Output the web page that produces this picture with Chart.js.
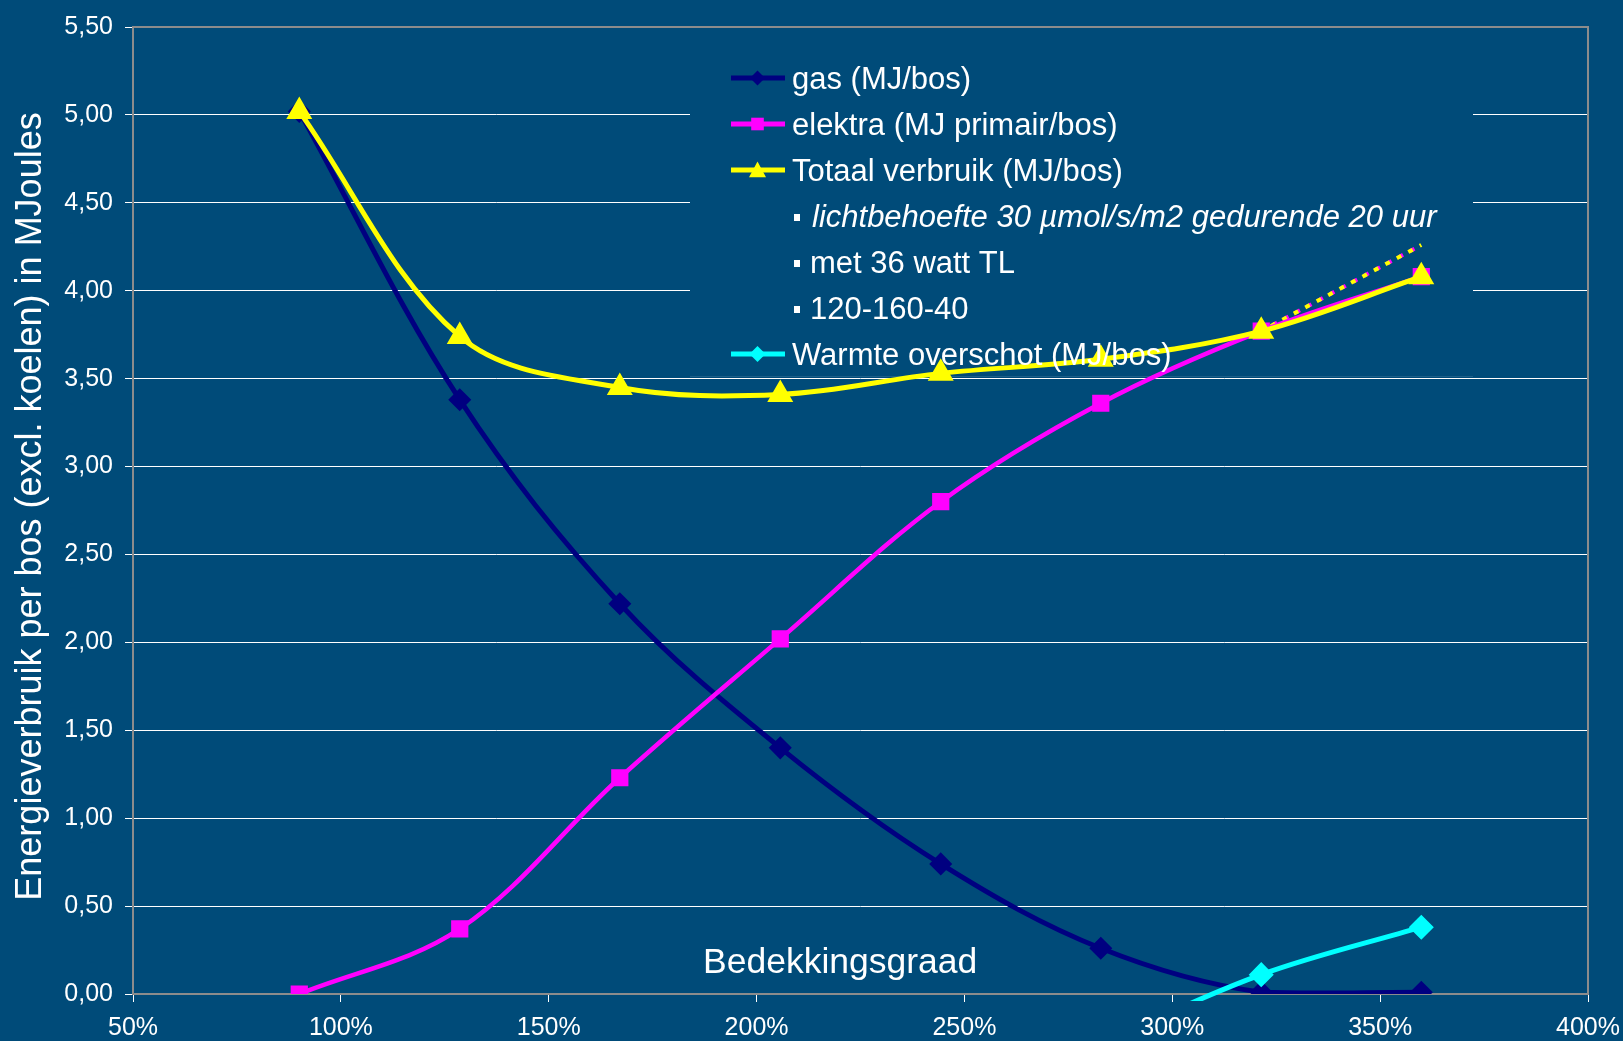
<!DOCTYPE html>
<html>
<head>
<meta charset="utf-8">
<script src="https://cdn.jsdelivr.net/npm/chart.js@4.4.0/dist/chart.umd.min.js"></script>
<style>
  html, body { margin: 0; padding: 0; background: #004b79; }
  canvas { display: block; }
</style>
</head>
<body>
<canvas id="chart" width="1623" height="1041"></canvas>
<script>
// Bedekkingsgraad (%) op de x-as
const bedekking = [90, 128.6, 167.1, 205.7, 244.3, 282.8, 321.4, 359.9];
const gas = [5.02, 3.38, 2.22, 1.40, 0.74, 0.26, 0.01, 0.01];
const elektra = [0.00, 0.37, 1.23, 2.02, 2.80, 3.36, 3.77, 4.08];
const totaal = [5.02, 3.74, 3.45, 3.41, 3.53, 3.61, 3.77, 4.08];
const warmteX = [282.8, 321.4, 359.9];
const warmte = [-0.28, 0.11, 0.38];
// gestippelde lijn aan het eind
const stippelX = [321.4, 359.9];
const stippel = [3.77, 4.26];

const legendLabels = [
  'gas (MJ/bos)',
  'elektra (MJ primair/bos)',
  'Totaal verbruik (MJ/bos)',
  'lichtbehoefte 30 \u00b5mol/s/m2 gedurende 20 uur',
  'met 36 watt TL',
  '120-160-40',
  'Warmte overschot (MJ/bos)'
];
const yTitle = 'Energieverbruik per bos (excl. koelen) in MJoules';
const xTitle = 'Bedekkingsgraad';

const BG = '#004b79';
const FONT = "'Liberation Sans', Arial, sans-serif";

const pts = (xs, ys) => xs.map((x, i) => ({ x: x, y: ys[i] }));

function marker(ctx, style, x, y, r, color) {
  ctx.save();
  ctx.fillStyle = color;
  ctx.beginPath();
  if (style === 'diamond') {
    ctx.moveTo(x, y - r); ctx.lineTo(x + r, y); ctx.lineTo(x, y + r); ctx.lineTo(x - r, y);
  } else if (style === 'square') {
    ctx.rect(x - r, y - r, 2 * r, 2 * r);
  } else if (style === 'triangle') {
    ctx.moveTo(x, y - r); ctx.lineTo(x + r, y + r * 0.85); ctx.lineTo(x - r, y + r * 0.85);
  }
  ctx.closePath();
  ctx.fill();
  ctx.restore();
}

const overlay = {
  id: 'overlay',
  beforeDatasetsDraw(chart) {
    const ctx = chart.ctx, a = chart.chartArea;
    ctx.save();
    // frame
    ctx.strokeStyle = '#8c8c8c';
    ctx.lineWidth = 2;
    ctx.strokeRect(a.left, a.top, a.right - a.left, a.bottom - a.top);
    // legend box hides gridlines
    ctx.fillStyle = BG;
    ctx.fillRect(690, 50, 783, 326);
    ctx.strokeStyle = 'rgba(255,255,255,0.12)';
    ctx.lineWidth = 1;
    ctx.beginPath(); ctx.moveTo(690, 376.5); ctx.lineTo(1473, 376.5); ctx.stroke();
    ctx.restore();
  },
  afterDatasetsDraw(chart) {
    const ctx = chart.ctx;
    ctx.save();
    ctx.fillStyle = '#ffffff';
    ctx.textBaseline = 'alphabetic';
    ctx.textAlign = 'left';
    const lines = [
      { color: '#000080', style: 'diamond', r: 7.5 },
      { color: '#ff00ff', style: 'square', r: 6.3 },
      { color: '#ffff00', style: 'triangle', r: 8.5 },
      null, null, null,
      { color: '#00ffff', style: 'diamond', r: 8 }
    ];
    legendLabels.forEach((txt, i) => {
      const base = 89 + i * 46;
      const item = lines[i];
      if (item) {
        ctx.strokeStyle = item.color;
        ctx.lineWidth = 5;
        ctx.beginPath(); ctx.moveTo(731, base - 11); ctx.lineTo(785, base - 11); ctx.stroke();
        marker(ctx, item.style, 757.5, base - 11, item.r, item.color);
        ctx.fillStyle = '#ffffff';
        ctx.font = '31px ' + FONT;
        ctx.fillText(txt, 792, base);
      } else {
        ctx.fillStyle = '#ffffff';
        ctx.fillRect(794, base - 13, 6, 7);
        ctx.font = (i === 3 ? 'italic ' : '') + '31px ' + FONT;
        ctx.fillText(txt, i === 3 ? 812 : 810, base);
      }
    });
    // x-as titel in de plot
    ctx.font = '35.5px ' + FONT;
    ctx.fillText(xTitle, 703, 973);
    ctx.restore();
  },
  afterDraw(chart) {
    const ctx = chart.ctx;
    ctx.save();
    ctx.fillStyle = '#ffffff';
    ctx.font = '36px ' + FONT;
    ctx.textAlign = 'center';
    ctx.textBaseline = 'alphabetic';
    ctx.translate(41, 506.5);
    ctx.rotate(-Math.PI / 2);
    ctx.fillText(yTitle, 0, 0);
    ctx.restore();
  }
};

new Chart(document.getElementById('chart'), {
  type: 'line',
  data: {
    datasets: [
      {
        label: 'Warmte overschot (MJ/bos)',
        data: pts(warmteX, warmte),
        borderColor: '#00ffff', backgroundColor: '#00ffff',
        borderWidth: 5, pointStyle: 'rectRot', pointRadius: 9,
        tension: 0.35, order: 0,
        clip: { left: 0, top: 0, right: 0, bottom: 7 }
      },
      {
        label: 'Totaal verbruik (MJ/bos)',
        data: pts(bedekking, totaal),
        borderColor: '#ffff00', backgroundColor: '#ffff00',
        borderWidth: 5, pointStyle: 'triangle', pointRadius: 10,
        tension: 0.35, order: 1
      },
      {
        label: 'elektra (MJ primair/bos)',
        data: pts(bedekking, elektra),
        borderColor: '#ff00ff', backgroundColor: '#ff00ff',
        borderWidth: 4.5, pointStyle: 'rect', pointRadius: 9,
        tension: 0.35, order: 2
      },
      {
        label: 'gas (MJ/bos)',
        data: pts(bedekking, gas),
        borderColor: '#000080', backgroundColor: '#000080',
        borderWidth: 5, pointStyle: 'rectRot', pointRadius: 8,
        tension: 0.35, order: 3
      },
      {
        label: 'stippel geel',
        data: pts(stippelX, stippel),
        borderColor: '#ffff00', borderWidth: 4, borderDash: [5, 8], borderDashOffset: 2,
        pointRadius: 0, order: 4
      },
      {
        label: 'stippel magenta',
        data: pts(stippelX, stippel),
        borderColor: '#ff00ff', borderWidth: 4, borderDash: [5, 8],
        pointRadius: 0, order: 5
      }
    ]
  },
  options: {
    responsive: false,
    animation: false,
    layout: { padding: { top: 24, right: 35, left: 0, bottom: 0 } },
    plugins: {
      legend: { display: false },
      tooltip: { enabled: false }
    },
    scales: {
      x: {
        type: 'linear',
        min: 50, max: 400,
        afterFit: (s) => { s.height = 47; s.paddingLeft = 0; s.paddingRight = 0; },
        border: { display: false },
        grid: { drawOnChartArea: false, drawTicks: true, tickLength: 8, tickColor: '#ffffff', color: '#ffffff' },
        ticks: {
          stepSize: 50,
          color: '#ffffff',
          padding: 11,
          font: { family: FONT, size: 25 },
          callback: (v) => v + '%'
        }
      },
      y: {
        min: 0, max: 5.5,
        afterFit: (s) => { s.width = 133; },
        border: { display: false },
        grid: { color: '#ffffff', lineWidth: 1, tickLength: 8, tickColor: '#ffffff' },
        ticks: {
          stepSize: 0.5,
          color: '#ffffff',
          padding: 12,
          font: { family: FONT, size: 25 },
          callback: (v) => v.toFixed(2).replace('.', ',')
        }
      }
    }
  },
  plugins: [overlay]
});
</script>
</body>
</html>
